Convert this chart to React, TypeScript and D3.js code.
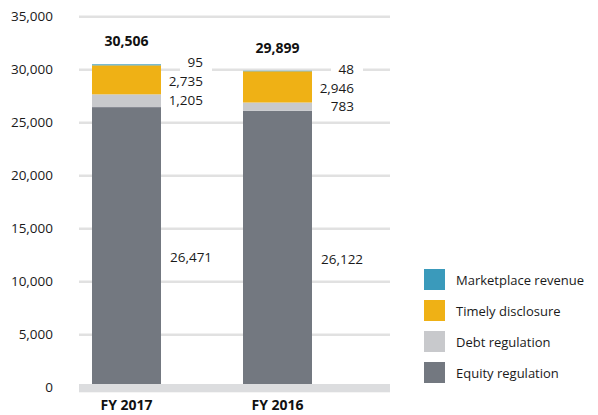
import * as d3 from 'd3';

const years = ['FY 2017', 'FY 2016'];
const seriesNames = ['Equity regulation', 'Debt regulation', 'Timely disclosure', 'Marketplace revenue'];
const equity = [26471, 26122];
const debt = [1205, 783];
const timely = [2735, 2946];
const marketplace = [95, 48];
const totals = [30506, 29899];
const yTicks = [0, 5000, 10000, 15000, 20000, 25000, 30000, 35000];
const colors = ['#737880', '#c8c9cc', '#efb115', '#3a9abb'];

const W = 598;
const H = 415;
const FONT = '"Open Sans", "Noto Sans", sans-serif';

export default function App() {
  const y = d3.scaleLinear().domain([0, 35000]).range([387.7, 16.7]);
  const x = d3.scalePoint<string>().domain(years).range([126.5, 277.5]);
  const barW = 69;
  const fmt = d3.format(',');

  const table = years.map((yr, i) => ({
    year: yr,
    'Equity regulation': equity[i],
    'Debt regulation': debt[i],
    'Timely disclosure': timely[i],
    'Marketplace revenue': marketplace[i],
  }));
  const stacked = d3.stack<any>().keys(seriesNames)(table);

  const mid = (s: number, i: number) => (y(stacked[s][i][0]) + y(stacked[s][i][1])) / 2;

  return (
    <svg width={W} height={H} style={{ position: 'absolute', left: 0, top: 0, fontFamily: FONT }}>
      <rect width={W} height={H} fill="#fff" />
      {/* gridlines */}
      {yTicks.filter(t => t > 0).map(t => (
        <line key={t} x1={79} x2={390} y1={y(t)} y2={y(t)} stroke="#e1e1e1" strokeWidth={2.5} />
      ))}
      {yTicks.map(t => (
        <text key={t} x={53} y={y(t)} dy="0.35em" textAnchor="end" fontSize={13.5} fill="#1a1a1a">
          {fmt(t)}
        </text>
      ))}
      {/* bars */}
      {stacked.map((s, si) => (
        <g key={s.key}>
          {s.map((d, i) => (
            <rect
              key={i}
              x={x(years[i])! - barW / 2}
              width={barW}
              y={y(d[1])}
              height={y(d[0]) - y(d[1])}
              fill={colors[si]}
            />
          ))}
        </g>
      ))}
      {/* zero band */}
      <rect x={79} width={311} y={384} height={8.3} fill="#dcdddf" />
      {/* labels */}
      {years.map((yr, i) => {
        const cx = x(yr)!;
        const right = cx + barW / 2;
        const top = y(totals[i]);
        const tMid = mid(2, i) + 1;
        const dMid = mid(1, i);
        const mMid = Math.min(mid(3, i), tMid - 19);
        return (
          <g key={yr}>
            <text x={cx} y={top - 23} dy="0.35em" textAnchor="middle" fontSize={14} fontWeight="bold" fill="#111">
              {fmt(totals[i])}
            </text>
            <rect x={right + 19} width={32} y={mMid - 9} height={dMid - mMid + 18} fill="#fff" />
            <text x={right + 42} y={mMid} dy="0.35em" textAnchor="end" fontSize={13.5} fill="#1a1a1a">
              {fmt(marketplace[i])}
            </text>
            <text x={right + 42} y={tMid} dy="0.35em" textAnchor="end" fontSize={13.5} fill="#1a1a1a">
              {fmt(timely[i])}
            </text>
            <text x={right + 42} y={dMid} dy="0.35em" textAnchor="end" fontSize={13.5} fill="#1a1a1a">
              {fmt(debt[i])}
            </text>
            <text x={right + 9} y={mid(0, i) + 10} dy="0.35em" textAnchor="start" fontSize={13.5} fill="#1a1a1a">
              {fmt(equity[i])}
            </text>
            <text x={cx} y={405} dy="0.35em" textAnchor="middle" fontSize={14} fontWeight="bold" fill="#111">
              {yr}
            </text>
          </g>
        );
      })}
      {/* legend */}
      {[3, 2, 1, 0].map((si, k) => (
        <g key={si} transform={`translate(424, ${269 + k * 31})`}>
          <rect width={21} height={21} fill={colors[si]} />
          <text x={32} y={11} dy="0.35em" fontSize={13} fill="#1a1a1a">
            {seriesNames[si]}
          </text>
        </g>
      ))}
    </svg>
  );
}
